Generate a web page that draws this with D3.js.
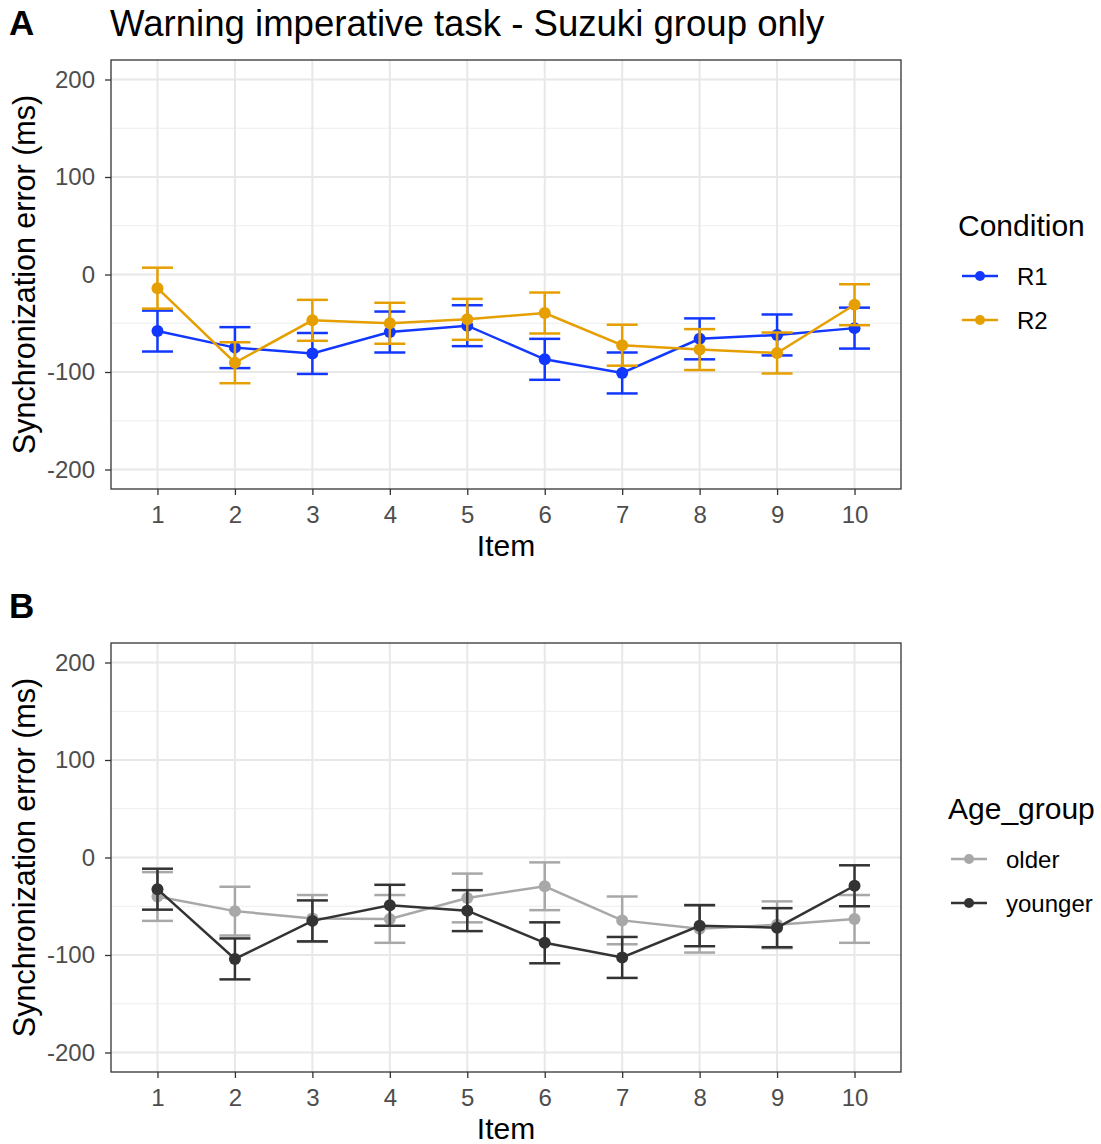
<!DOCTYPE html>
<html>
<head>
<meta charset="utf-8">
<script src="https://cdn.jsdelivr.net/npm/d3@7"></script>
<style>
  html, body { margin: 0; padding: 0; background: #ffffff; }
  svg { display: block; font-family: "Liberation Sans", Arial, Helvetica, sans-serif; }
</style>
</head>
<body>
<svg id="chart" width="1101" height="1144"></svg>
<script>
// Items on the x axis
const items = [1, 2, 3, 4, 5, 6, 7, 8, 9, 10];
const yTicks = [-200, -100, 0, 100, 200];
const yMinor = [-150, -50, 50, 150];

// Panel A: mean synchronization error (ms) and error-bar half-width per condition
const conditionNames = ["R1", "R2"];
const r1Mean = [-58, -75, -81, -59, -52.5, -87, -101, -66, -62, -55];
const r1Err  = [21, 21, 21, 21, 21, 21, 21, 21, 21, 21];
const r2Mean = [-14, -90.5, -47, -50, -46, -39.5, -72.5, -77, -80.5, -31];
const r2Err  = [21, 21, 21, 21, 21, 21, 21, 21, 21, 21];

// Panel B: mean synchronization error (ms) and error-bar half-width per age group
const ageNames = ["older", "younger"];
const olderMean   = [-40, -55, -62.5, -63, -41.5, -29.5, -64.5, -73, -69, -63];
const olderErr    = [25, 25, 24, 24.5, 25, 24.5, 24.5, 24.5, 24, 24.5];
const youngerMean = [-32.5, -104, -65, -49, -54.5, -87.5, -102.5, -70, -72, -29];
const youngerErr  = [21, 21, 21, 21, 21, 21, 21, 21, 20, 21];

const panelA = {
  tag: "A",
  title: "Warning imperative task - Suzuki group only",
  legendTitle: "Condition",
  names: conditionNames,
  means: [r1Mean, r2Mean],
  errs: [r1Err, r2Err],
  colors: ["#1238ff", "#e69f00"],
  top: 60
};
const panelB = {
  tag: "B",
  title: null,
  legendTitle: "Age_group",
  names: ageNames,
  means: [olderMean, youngerMean],
  errs: [olderErr, youngerErr],
  colors: ["#a8a8a8", "#333333"],
  top: 643
};

const svg = d3.select("#chart");
const left = 111, right = 901, panelH = 429;
const x = d3.scaleLinear().domain([0.4, 10.6]).range([left, right]);

// plain hyphen-minus labels
const fmt = d => String(d);

function drawPanel(p, legendX, keyLeft, labelX) {
  const g = svg.append("g");
  const y = d3.scaleLinear().domain([-220, 220]).range([p.top + panelH, p.top]);

  // background + grid
  g.append("rect").attr("x", left).attr("y", p.top).attr("width", right - left).attr("height", panelH)
    .attr("fill", "#ffffff");
  g.selectAll(".minor").data(yMinor).join("line")
    .attr("x1", left).attr("x2", right)
    .attr("y1", d => y(d)).attr("y2", d => y(d))
    .attr("stroke", "#ededed").attr("stroke-width", 1);
  g.selectAll(".majorY").data(yTicks).join("line")
    .attr("x1", left).attr("x2", right)
    .attr("y1", d => y(d)).attr("y2", d => y(d))
    .attr("stroke", "#e8e8e8").attr("stroke-width", 2);
  g.selectAll(".majorX").data(items).join("line")
    .attr("x1", d => x(d)).attr("x2", d => x(d))
    .attr("y1", p.top).attr("y2", p.top + panelH)
    .attr("stroke", "#e8e8e8").attr("stroke-width", 2);

  // series
  p.names.forEach((name, s) => {
    const rows = items.map((it, i) => ({ it, m: p.means[s][i], e: p.errs[s][i] }));
    const col = p.colors[s];
    const sg = g.append("g");
    // error bars
    rows.forEach(r => {
      sg.append("line").attr("x1", x(r.it)).attr("x2", x(r.it))
        .attr("y1", y(r.m - r.e)).attr("y2", y(r.m + r.e))
        .attr("stroke", col).attr("stroke-width", 2.5);
      [r.m - r.e, r.m + r.e].forEach(v => {
        sg.append("line").attr("x1", x(r.it) - 15.5).attr("x2", x(r.it) + 15.5)
          .attr("y1", y(v)).attr("y2", y(v))
          .attr("stroke", col).attr("stroke-width", 2.5);
      });
    });
    // connecting line
    sg.append("path").datum(rows)
      .attr("d", d3.line().x(r => x(r.it)).y(r => y(r.m)))
      .attr("fill", "none").attr("stroke", col).attr("stroke-width", 2.5);
    // points
    sg.selectAll("circle").data(rows).join("circle")
      .attr("cx", r => x(r.it)).attr("cy", r => y(r.m)).attr("r", 6)
      .attr("fill", col);
  });

  // panel border
  g.append("rect").attr("x", left).attr("y", p.top).attr("width", right - left).attr("height", panelH)
    .attr("fill", "none").attr("stroke", "#333333").attr("stroke-width", 1.3);

  // axes
  const ya = g.append("g").attr("transform", `translate(${left},0)`)
    .call(d3.axisLeft(y).tickValues(yTicks).tickSize(6).tickPadding(10).tickFormat(fmt));
  const xa = g.append("g").attr("transform", `translate(0,${p.top + panelH})`)
    .call(d3.axisBottom(x).tickValues(items).tickSize(6).tickPadding(11).tickFormat(fmt));
  [ya, xa].forEach(a => {
    a.select(".domain").remove();
    a.selectAll(".tick line").attr("stroke", "#333333").attr("stroke-width", 1.3);
    a.selectAll(".tick text").attr("fill", "#4d4d4d").style("font-size", "24px")
      .style("font-family", "'Liberation Sans', Arial, sans-serif");
  });

  // axis titles
  g.append("text").attr("x", (left + right) / 2).attr("y", p.top + panelH + 67)
    .attr("text-anchor", "middle").attr("fill", "#000").style("font-size", "30px").text("Item");
  g.append("text").attr("transform", `translate(35,${p.top + panelH / 2}) rotate(-90)`)
    .attr("text-anchor", "middle").attr("fill", "#000").style("font-size", "30.5px")
    .text("Synchronization error (ms)");

  // tag and title
  g.append("text").attr("x", 9).attr("y", p.top - 25).attr("fill", "#000")
    .style("font-size", "35px").style("font-weight", "bold").text(p.tag);
  if (p.title) {
    g.append("text").attr("x", 110).attr("y", p.top - 24).attr("fill", "#000")
      .style("font-size", "36.6px").text(p.title);
  }

  // legend
  const mid = p.top + panelH / 2;
  g.append("text").attr("x", legendX).attr("y", mid - 39).attr("fill", "#000")
    .style("font-size", "30px").text(p.legendTitle);
  p.names.forEach((name, s) => {
    const ky = mid + 1.5 + s * 44;
    g.append("line").attr("x1", keyLeft).attr("x2", keyLeft + 36).attr("y1", ky).attr("y2", ky)
      .attr("stroke", p.colors[s]).attr("stroke-width", 2.5);
    g.append("circle").attr("cx", keyLeft + 18).attr("cy", ky).attr("r", 5).attr("fill", p.colors[s]);
    g.append("text").attr("x", labelX).attr("y", ky + 8.5).attr("fill", "#000")
      .style("font-size", "24px").text(name);
  });
}

drawPanel(panelA, 958, 962, 1017);
drawPanel(panelB, 948, 951, 1006);
</script>
</body>
</html>
